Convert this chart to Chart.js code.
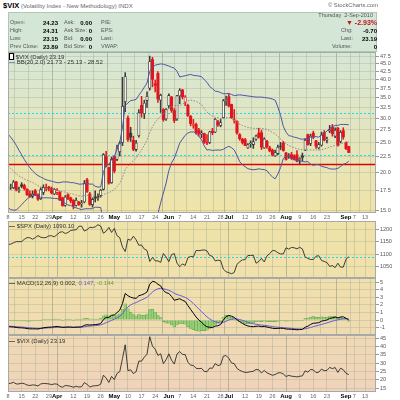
<!DOCTYPE html>
<html>
<head>
<meta charset="utf-8">
<title>$VIX</title>
<script src="https://cdn.jsdelivr.net/npm/chart.js@4.4.0/dist/chart.umd.min.js"></script>
<style>
  html, body { margin: 0; padding: 0; }
  body { width: 400px; height: 400px; position: relative; overflow: hidden; background: #fff;
         font-family: "Liberation Sans", Arial, sans-serif; color: #333; }
  canvas { position: absolute; left: 0; }
  .t { position: absolute; white-space: nowrap; line-height: 1; z-index: 5; }
  .l { font-size: 5.5px; color: #555; }
  .v { font-size: 6px; font-weight: bold; color: #000; text-align: right; }
  #info { position: absolute; left: 8px; top: 12px; width: 369px; height: 40px; background: #d4e7d7;
          border: 1px solid #b2c6b4; box-sizing: border-box; }
  .leg { font-size: 6px; color: #333; }
</style>
</head>
<body>
<div class="t" style="left:3px;top:2px;font-size:6px;color:#666"><b style="font-size:7.5px;color:#000">$VIX</b> (Volatility Index - New Methodology) INDX</div>
<div class="t" style="right:22px;top:3px;font-size:5.8px;color:#666">&copy; StockCharts.com</div>
<div id="info"></div>
<div class="t l" style="right:27px;top:12.5px">Thursday&nbsp; 2-Sep-2010</div>

<div class="t l" style="left:10px;top:20px">Open:</div>
<div class="t v" style="right:342px;top:19.5px">24.23</div>
<div class="t l" style="left:64px;top:20px">Ask:</div>
<div class="t v" style="right:308px;top:19.5px">0.00</div>
<div class="t l" style="left:101px;top:20px">P/E:</div>
<div class="t" style="right:23px;top:18.5px;font-size:7px;font-weight:bold;color:#c0141c"><span style="font-size:7px">&#9660;</span> -2.93%</div>

<div class="t l" style="left:10px;top:28px">High:</div>
<div class="t v" style="right:342px;top:27.5px">24.31</div>
<div class="t l" style="left:64px;top:28px">Ask Size:</div>
<div class="t v" style="right:308px;top:27.5px">0</div>
<div class="t l" style="left:101px;top:28px">EPS:</div>
<div class="t l" style="left:341px;top:28px">Chg:</div>
<div class="t v" style="right:23px;top:27.5px">-0.70</div>

<div class="t l" style="left:10px;top:36px">Low:</div>
<div class="t v" style="right:342px;top:35.5px">23.15</div>
<div class="t l" style="left:64px;top:36px">Bid:</div>
<div class="t v" style="right:308px;top:35.5px">0.00</div>
<div class="t l" style="left:101px;top:36px">Last:</div>
<div class="t l" style="left:341px;top:36px">Last:</div>
<div class="t v" style="right:23px;top:35.5px">23.19</div>

<div class="t l" style="left:10px;top:44px">Prev Close:</div>
<div class="t v" style="right:342px;top:43.5px">23.89</div>
<div class="t l" style="left:64px;top:44px">Bid Size:</div>
<div class="t v" style="right:308px;top:43.5px">0</div>
<div class="t l" style="left:101px;top:44px">VWAP:</div>
<div class="t l" style="left:332px;top:44px">Volume:</div>
<div class="t v" style="right:23px;top:43.5px">0</div>

<canvas id="cMain" width="400" height="169" style="top:52px"></canvas>
<canvas id="cSpx" width="400" height="57" style="top:221px"></canvas>
<canvas id="cMacd" width="400" height="57" style="top:278px"></canvas>
<canvas id="cVix" width="400" height="65" style="top:335px"></canvas>

<div class="t leg" style="left:9px;top:52.5px"><span style="display:inline-block;width:3px;height:5px;border:0.7px solid #000;background:#fff;vertical-align:-1px"></span> $VIX (Daily) 23.19</div>
<div class="t leg" style="left:9px;top:58.5px"><span style="color:#3d4aa0;font-weight:bold">&#8212;</span> BB(20,2.0) 21.73 - 25.13 - 28.52</div>
<div class="t leg" style="left:9px;top:223px"><span style="color:#000;font-weight:bold">&#8212;</span> $SPX (Daily) 1090.10</div>
<div class="t leg" style="left:9px;top:280px"><span style="color:#000;font-weight:bold">&#8212;</span> MACD(12,26,9) 0.002, <span style="color:#6a5ad0">0.147</span>, <span style="color:#5aa83c">-0.144</span></div>
<div class="t leg" style="left:9px;top:337.5px"><span style="color:#000;font-weight:bold">&#8212;</span> $VIX (Daily) 23.19</div>

<script>
// trading days shown on the date axis (Mar 8 - Sep 17, 2010)
const months = ["Mar", "Apr", "May", "Jun", "Jul", "Aug", "Sep"];
const monthDays = [
  [8, 9, 10, 11, 12, 15, 16, 17, 18, 19, 22, 23, 24, 25, 26, 29, 30, 31],
  [1, 5, 6, 7, 8, 9, 12, 13, 14, 15, 16, 19, 20, 21, 22, 23, 26, 27, 28, 29, 30],
  [3, 4, 5, 6, 7, 10, 11, 12, 13, 14, 17, 18, 19, 20, 21, 24, 25, 26, 27, 28],
  [1, 2, 3, 4, 7, 8, 9, 10, 11, 14, 15, 16, 17, 18, 21, 22, 23, 24, 25, 28, 29, 30],
  [1, 2, 6, 7, 8, 9, 12, 13, 14, 15, 16, 19, 20, 21, 22, 23, 26, 27, 28, 29, 30],
  [2, 3, 4, 5, 6, 9, 10, 11, 12, 13, 16, 17, 18, 19, 20, 23, 24, 25, 26, 27, 30, 31],
  [1, 2, 3, 7, 8, 9, 10, 13, 14, 15, 16, 17]
];
const days = months.flatMap((m, i) => monthDays[i].map(d => m + " " + d));

// week ticks on the date axis
const tickDays = ["Mar 8", "Mar 15", "Mar 22", "Mar 29", "Apr 1", "Apr 12", "Apr 19", "Apr 26",
  "May 3", "May 10", "May 17", "May 24", "Jun 1", "Jun 7", "Jun 14", "Jun 21", "Jun 28",
  "Jul 1", "Jul 12", "Jul 19", "Jul 26", "Aug 2", "Aug 9", "Aug 16", "Aug 23",
  "Sep 1", "Sep 7", "Sep 13"];
const tickText = ["8", "15", "22", "29", "Apr", "12", "19", "26",
  "May", "10", "17", "24", "Jun", "7", "14", "21", "28",
  "Jul", "12", "19", "26", "Aug", "9", "16", "23",
  "Sep", "7", "13"];

// $VIX daily candles
const closeBefore = 17.42;
const open = [
  17.6, 17.9, 17.8, 18.6, 17.4, 18.2, 18.1, 17.6, 17.0, 16.7,
  17.4, 16.9, 16.4, 17.2, 17.8, 17.9, 17.7, 17.0, 17.2, 17.2,
  16.5, 15.6, 16.9, 16.5, 16.2, 15.6, 16.0, 15.8, 16.0, 18.9,
  17.0, 15.7, 16.6, 16.7, 16.8, 17.6, 22.5, 20.7, 18.5, 22.5,
  22.0, 23.3, 25.0, 33.9, 30.0, 26.8, 25.4, 23.7, 26.3, 33.0,
  31.0, 34.2, 37.5, 46.5, 38.8, 41.9, 34.3, 32.0, 29.8, 32.9,
  35.1, 31.7, 29.8, 35.4, 37.0, 33.8, 33.0, 30.4, 28.4, 28.6,
  27.4, 26.6, 26.7, 25.0, 25.0, 27.2, 27.0, 29.2, 28.4, 30.1,
  34.1, 35.2, 33.2, 29.4, 29.3, 26.5, 25.6, 25.5, 24.0, 24.7,
  24.6, 25.6, 26.8, 26.9, 24.0, 25.2, 24.0, 23.6, 22.6, 23.0,
  24.3, 24.9, 23.1, 22.5, 22.8, 22.6, 22.8, 22.0, 22.6, 23.6,
  26.5, 24.8, 26.8, 25.3, 24.0, 24.5, 26.9, 25.4, 27.2, 28.0,
  26.2, 27.8, 25.2, 27.3, 25.0, 24.23
];
const high = [
  18.2, 18.3, 18.8, 18.7, 17.9, 18.5, 18.3, 17.7, 17.4, 17.4,
  17.6, 17.0, 17.8, 18.2, 18.3, 18.0, 17.9, 17.7, 17.7, 17.3,
  16.6, 16.8, 17.0, 16.6, 16.3, 16.5, 16.1, 16.2, 18.8, 19.1,
  17.2, 16.5, 17.4, 17.0, 17.6, 23.0, 23.4, 20.8, 22.4, 22.6,
  24.5, 25.2, 40.7, 42.2, 30.5, 28.0, 26.2, 25.4, 32.0, 35.3,
  34.3, 36.5, 47.7, 47.3, 39.9, 42.5, 35.9, 32.2, 32.2, 36.0,
  35.3, 32.2, 35.6, 37.4, 37.2, 35.5, 33.3, 30.6, 29.7, 28.9,
  27.8, 27.3, 26.8, 26.5, 27.2, 27.8, 29.9, 29.5, 29.7, 34.5,
  35.4, 36.0, 33.3, 32.0, 29.4, 26.7, 25.8, 25.8, 24.8, 25.3,
  25.9, 26.4, 27.8, 27.4, 25.9, 25.4, 24.3, 23.8, 23.6, 24.5,
  25.0, 25.2, 23.2, 23.0, 23.2, 22.8, 23.5, 22.3, 23.1, 25.7,
  26.6, 26.6, 27.2, 25.4, 25.0, 27.0, 27.3, 26.0, 28.4, 28.6,
  27.9, 28.0, 27.3, 27.9, 25.1, 24.31
];
const low = [
  17.3, 17.6, 17.7, 17.4, 17.2, 17.8, 17.5, 16.8, 16.6, 16.5,
  16.8, 16.2, 16.3, 16.9, 17.4, 17.4, 17.0, 16.9, 16.9, 16.2,
  15.5, 15.5, 16.3, 15.9, 15.2, 15.5, 15.6, 15.4, 15.9, 17.2,
  15.6, 15.4, 16.0, 16.2, 16.6, 17.5, 20.8, 18.3, 18.4, 19.9,
  21.8, 22.6, 24.4, 31.5, 25.2, 25.2, 23.5, 23.4, 26.0, 30.2,
  29.9, 32.5, 37.0, 37.9, 36.5, 33.7, 31.3, 29.3, 29.5, 32.3,
  31.3, 29.0, 29.5, 33.4, 34.6, 32.9, 30.4, 28.3, 27.8, 26.6,
  26.2, 25.9, 24.8, 24.6, 24.8, 26.5, 26.9, 28.2, 28.1, 30.0,
  33.0, 32.6, 29.9, 28.9, 26.6, 25.4, 24.7, 24.4, 23.9, 24.1,
  23.9, 25.4, 25.8, 23.7, 23.9, 23.9, 23.3, 22.6, 22.5, 22.8,
  23.7, 23.4, 21.9, 22.2, 22.0, 21.9, 21.6, 21.3, 21.8, 23.5,
  24.5, 24.4, 25.7, 23.9, 23.8, 24.3, 25.3, 24.9, 26.9, 26.2,
  25.9, 24.3, 24.9, 25.6, 23.7, 23.15
];
const close = [
  17.79, 17.92, 18.57, 17.58, 17.58, 18.00, 17.69, 16.91, 16.62, 16.97,
  16.87, 16.35, 17.55, 17.85, 17.77, 17.59, 17.13, 17.59, 17.47, 16.23,
  15.58, 16.62, 16.46, 16.14, 15.58, 16.20, 15.72, 15.89, 18.36, 17.34,
  15.73, 16.32, 16.47, 16.62, 17.47, 22.81, 21.08, 18.44, 22.05, 20.19,
  23.84, 24.91, 32.80, 40.95, 25.52, 26.00, 23.73, 24.91, 31.24, 31.19,
  33.55, 35.32, 45.79, 40.10, 38.32, 34.61, 35.59, 29.68, 32.07, 35.54,
  31.77, 29.46, 35.48, 36.93, 35.21, 35.11, 30.57, 28.79, 28.58, 26.91,
  26.68, 26.88, 25.05, 24.88, 27.05, 26.91, 29.74, 28.53, 29.00, 34.13,
  34.54, 32.86, 30.12, 29.65, 26.84, 25.71, 24.98, 24.43, 24.56, 24.89,
  25.14, 26.25, 25.97, 24.13, 25.64, 24.21, 23.47, 22.73, 23.19, 24.13,
  24.25, 23.50, 22.01, 22.66, 22.21, 22.01, 21.74, 22.14, 22.37, 25.39,
  24.59, 26.24, 25.99, 24.33, 24.59, 26.44, 25.49, 25.66, 27.46, 26.70,
  27.37, 24.45, 26.96, 26.05, 23.89, 23.19
];

// Bollinger Bands (20, 2.0)
const bbUpper = [
  26.6, 26.0, 25.3, 24.5, 23.6, 22.8, 22.0, 21.3, 20.7, 20.2,
  19.8, 19.5, 19.3, 19.1, 18.9, 18.8, 18.7, 18.6, 18.5, 18.5,
  18.6, 18.6, 18.6, 18.5, 18.5, 18.4, 18.3, 18.3, 18.4, 18.4,
  18.3, 18.3, 18.0, 17.9, 17.9, 20.0, 21.1, 21.2, 22.0, 22.5,
  23.8, 25.0, 28.0, 33.0, 33.6, 34.2, 34.3, 34.5, 35.6, 36.6,
  37.8, 39.0, 42.6, 43.8, 44.6, 44.8, 45.0, 44.9, 44.6, 44.3,
  43.9, 43.6, 42.6, 40.8, 41.0, 41.2, 41.4, 41.6, 41.3, 41.2,
  41.1, 40.9, 40.0, 39.2, 38.0, 37.4, 36.7, 36.6, 36.3, 36.0,
  36.0, 36.1, 35.8, 35.5, 35.6, 35.7, 35.6, 35.5, 35.4, 35.3,
  35.2, 35.1, 35.1, 35.1, 35.0, 34.9, 34.8, 34.6, 34.3, 32.6,
  30.6, 28.2, 27.0, 26.3, 26.2, 26.0, 25.9, 25.7, 25.6, 25.7,
  25.6, 26.0, 26.2, 26.1, 26.0, 26.5, 26.8, 27.2, 27.8, 28.1,
  28.4, 28.4, 28.6, 28.6, 28.6, 28.52
];
const bbMid = [
  20.99, 20.56, 20.18, 19.79, 19.47, 19.24, 19.02, 18.83, 18.67, 18.52,
  18.33, 18.08, 17.94, 17.80, 17.71, 17.65, 17.59, 17.52, 17.46, 17.40,
  17.29, 17.23, 17.12, 17.05, 16.95, 16.86, 16.76, 16.71, 16.80, 16.81,
  16.76, 16.76, 16.70, 16.64, 16.63, 16.89, 17.08, 17.13, 17.36, 17.55,
  17.97, 18.38, 19.20, 20.44, 20.94, 21.43, 21.83, 22.28, 22.92, 23.61,
  24.50, 25.45, 26.92, 28.09, 29.14, 29.73, 30.45, 31.01, 31.52, 32.28,
  32.68, 32.91, 33.04, 32.84, 33.32, 33.78, 34.12, 34.32, 34.18, 33.97,
  33.63, 33.20, 32.17, 31.41, 30.84, 30.46, 30.16, 30.11, 29.95, 29.88,
  30.02, 30.19, 29.92, 29.56, 29.14, 28.67, 28.39, 28.17, 27.97, 27.87,
  27.79, 27.76, 27.81, 27.77, 27.70, 27.57, 27.25, 26.96, 26.67, 26.17,
  25.66, 25.19, 24.78, 24.43, 24.20, 24.02, 23.86, 23.74, 23.63, 23.66,
  23.63, 23.63, 23.63, 23.64, 23.59, 23.70, 23.80, 23.95, 24.16, 24.29,
  24.44, 24.49, 24.74, 24.91, 24.99, 25.13
];
const bbLower = [
  15.38, 15.12, 15.06, 15.08, 15.34, 15.68, 16.04, 16.36, 16.64, 16.84,
  16.86, 16.66, 16.58, 16.50, 16.52, 16.50, 16.48, 16.44, 16.42, 16.30,
  15.98, 15.86, 15.64, 15.60, 15.40, 15.32, 15.22, 15.12, 15.20, 15.22,
  15.22, 15.22, 15.40, 15.38, 15.36, 13.78, 13.06, 13.06, 12.72, 12.60,
  12.14, 11.76, 10.40, 7.88, 8.28, 8.66, 9.36, 10.06, 10.24, 10.62,
  11.20, 11.90, 11.24, 12.38, 13.68, 14.66, 15.90, 17.12, 18.44, 20.26,
  21.46, 22.22, 23.48, 24.88, 25.64, 26.36, 26.84, 27.04, 27.06, 26.74,
  26.16, 25.50, 24.34, 23.62, 23.68, 23.52, 23.62, 23.62, 23.60, 23.76,
  24.04, 24.28, 24.04, 23.62, 22.68, 21.64, 21.18, 20.84, 20.54, 20.44,
  20.38, 20.42, 20.52, 20.44, 20.40, 20.24, 19.70, 19.32, 19.04, 19.74,
  20.72, 22.18, 22.56, 22.56, 22.20, 22.04, 21.82, 21.78, 21.66, 21.62,
  21.66, 21.26, 21.06, 21.18, 21.18, 20.90, 20.80, 20.70, 20.52, 20.48,
  20.48, 20.58, 20.88, 21.22, 21.38, 21.73
];

// $SPX daily close
const spx = [
  1138.5, 1140.4, 1145.6, 1150.2, 1150.0, 1150.5, 1159.5, 1166.2, 1165.8, 1159.9,
  1165.8, 1174.2, 1167.7, 1165.7, 1166.6, 1173.2, 1173.3, 1169.4, 1178.1, 1187.4,
  1189.4, 1182.4, 1186.4, 1194.4, 1196.5, 1197.3, 1210.7, 1211.7, 1192.1, 1197.5,
  1207.2, 1205.9, 1208.7, 1217.3, 1212.1, 1183.7, 1191.4, 1206.8, 1186.7, 1202.3,
  1173.6, 1165.9, 1128.2, 1110.9, 1159.7, 1155.8, 1171.7, 1157.4, 1135.7, 1136.9,
  1120.8, 1115.1, 1071.6, 1087.7, 1073.7, 1074.0, 1067.9, 1103.1, 1089.4, 1070.7,
  1098.4, 1102.8, 1064.9, 1050.5, 1062.0, 1055.7, 1086.8, 1091.6, 1089.6, 1115.2,
  1114.6, 1116.0, 1117.5, 1113.2, 1095.3, 1092.0, 1073.7, 1076.8, 1074.6, 1041.2,
  1030.7, 1027.4, 1022.6, 1028.1, 1060.3, 1070.3, 1078.0, 1078.8, 1095.3, 1095.2,
  1096.5, 1064.9, 1071.3, 1083.5, 1069.6, 1093.7, 1102.7, 1115.0, 1113.8, 1106.1,
  1101.5, 1101.6, 1125.9, 1120.5, 1127.2, 1125.8, 1121.6, 1127.8, 1121.1, 1089.5,
  1083.6, 1079.3, 1079.4, 1092.5, 1094.2, 1075.6, 1071.7, 1067.4, 1051.9, 1055.3,
  1047.2, 1064.6, 1048.9, 1049.3, 1080.3, 1090.1
];

// MACD(12,26,9)
const macd = [
  -0.85, -0.90, -0.92, -0.98, -1.02, -1.03, -1.06, -1.12, -1.16, -1.16,
  -1.16, -1.18, -1.10, -1.02, -0.97, -0.94, -0.93, -0.88, -0.85, -0.90,
  -0.97, -0.94, -0.92, -0.93, -0.97, -0.93, -0.93, -0.90, -0.70, -0.62,
  -0.66, -0.63, -0.60, -0.56, -0.46, 0.05, 0.34, 0.35, 0.62, 0.68,
  0.98, 1.30, 2.18, 3.50, 3.20, 3.00, 2.90, 2.85, 3.20, 3.30,
  3.45, 3.70, 4.70, 5.10, 5.00, 4.70, 4.50, 3.90, 3.60, 3.50,
  3.10, 2.60, 2.70, 2.80, 2.60, 2.45, 1.90, 1.40, 0.90, 0.40,
  0.00, -0.30, -0.65, -0.90, -0.95, -1.00, -0.80, -0.75, -0.60, 0.00,
  0.45, 0.60, 0.50, 0.35, 0.05, -0.20, -0.45, -0.65, -0.78, -0.85,
  -0.88, -0.82, -0.80, -0.88, -0.85, -0.92, -1.00, -1.08, -1.12, -1.10,
  -1.08, -1.10, -1.18, -1.20, -1.22, -1.25, -1.28, -1.26, -1.22, -0.95,
  -0.82, -0.58, -0.42, -0.40, -0.35, -0.15, -0.08, 0.00, 0.20, 0.28,
  0.40, 0.28, 0.40, 0.42, 0.24, 0.002
];
const signal = [
  -0.80, -0.82, -0.84, -0.87, -0.90, -0.92, -0.95, -0.99, -1.02, -1.05,
  -1.07, -1.09, -1.09, -1.08, -1.06, -1.03, -1.01, -0.99, -0.96, -0.95,
  -0.95, -0.95, -0.94, -0.94, -0.95, -0.94, -0.94, -0.93, -0.89, -0.83,
  -0.80, -0.76, -0.73, -0.70, -0.65, -0.51, -0.34, -0.20, -0.04, 0.11,
  0.28, 0.49, 0.82, 1.36, 1.73, 1.98, 2.17, 2.30, 2.48, 2.65,
  2.81, 2.99, 3.33, 3.68, 3.95, 4.10, 4.18, 4.12, 4.02, 3.91,
  3.75, 3.52, 3.36, 3.25, 3.12, 2.98, 2.77, 2.49, 2.18, 1.82,
  1.46, 1.11, 0.75, 0.42, 0.15, -0.08, -0.23, -0.33, -0.39, -0.31,
  -0.16, 0.00, 0.10, 0.15, 0.13, 0.06, -0.04, -0.16, -0.29, -0.40,
  -0.50, -0.56, -0.61, -0.66, -0.70, -0.74, -0.80, -0.85, -0.91, -0.95,
  -0.97, -1.00, -1.03, -1.07, -1.10, -1.13, -1.16, -1.18, -1.19, -1.14,
  -1.08, -0.98, -0.87, -0.77, -0.69, -0.58, -0.48, -0.38, -0.27, -0.16,
  -0.05, 0.02, 0.10, 0.16, 0.18, 0.147
];
const histogram = [
  -0.05, -0.08, -0.08, -0.11, -0.12, -0.11, -0.11, -0.14, -0.14, -0.11,
  -0.09, -0.09, -0.01, 0.06, 0.09, 0.09, 0.08, 0.11, 0.11, 0.05,
  -0.02, 0.01, 0.02, 0.01, -0.02, 0.01, 0.01, 0.03, 0.19, 0.21,
  0.14, 0.13, 0.13, 0.14, 0.19, 0.56, 0.68, 0.55, 0.66, 0.57,
  0.70, 0.82, 1.36, 2.14, 1.47, 1.02, 0.73, 0.55, 0.72, 0.65,
  0.64, 0.71, 1.37, 1.42, 1.05, 0.60, 0.32, -0.22, -0.42, -0.41,
  -0.65, -0.92, -0.66, -0.45, -0.52, -0.53, -0.87, -1.09, -1.28, -1.42,
  -1.46, -1.41, -1.40, -1.32, -1.10, -0.92, -0.57, -0.42, -0.22, 0.31,
  0.61, 0.61, 0.40, 0.20, -0.08, -0.26, -0.41, -0.49, -0.49, -0.45,
  -0.39, -0.26, -0.19, -0.22, -0.15, -0.18, -0.21, -0.23, -0.21, -0.16,
  -0.11, -0.10, -0.15, -0.13, -0.12, -0.12, -0.12, -0.08, -0.03, 0.19,
  0.26, 0.40, 0.45, 0.37, 0.34, 0.43, 0.40, 0.38, 0.47, 0.44,
  0.45, 0.26, 0.31, 0.26, 0.06, -0.144
];

// axis ticks and marked levels
const vixTicks = [15, 17.5, 20, 22.5, 25, 27.5, 30, 32.5, 35, 37.5, 40, 42.5, 45, 47.5];
const spxTicks = [1050, 1100, 1150, 1200];
const macdTicks = [-1, 0, 1, 2, 3, 4, 5];
const vixLineTicks = [15, 20, 25, 30, 35, 40, 45];
const vixRedLevel = 21.3;
const vixCyanLevels = [31.1, 22.7];
const spxCyanLevel = 1090.10;

const FONT = "Liberation Sans";
Chart.defaults.font.family = FONT;
Chart.defaults.animation = false;

// panel background, level lines and frame
const panelPlugin = {
  id: "panel",
  beforeDraw(chart, args, opts) {
    const { ctx, chartArea: a } = chart;
    const g = ctx.createLinearGradient(0, a.top, 0, a.bottom);
    g.addColorStop(0, opts.top);
    g.addColorStop(1, opts.bottom);
    ctx.save();
    ctx.fillStyle = g;
    ctx.fillRect(a.left, a.top, a.right - a.left, a.bottom - a.top);
    ctx.restore();
  },
  beforeDatasetsDraw(chart, args, opts) {
    const { ctx, chartArea: a } = chart;
    const y = chart.scales.y;
    (opts.lines || []).forEach(l => {
      const py = Math.round(y.getPixelForValue(l.value)) + 0.5;
      ctx.save();
      ctx.strokeStyle = l.color;
      ctx.lineWidth = l.width || 1;
      ctx.setLineDash(l.dash || []);
      ctx.beginPath();
      ctx.moveTo(a.left, py);
      ctx.lineTo(a.right, py);
      ctx.stroke();
      ctx.restore();
    });
  },
  afterDraw(chart) {
    const { ctx, chartArea: a } = chart;
    ctx.save();
    ctx.strokeStyle = "#a8a8a8";
    ctx.lineWidth = 1;
    ctx.strokeRect(a.left + 0.5, a.top + 0.5, a.right - a.left - 1, a.bottom - a.top - 1);
    ctx.restore();
  }
};

const isMonth = c => c.tick && months.includes(c.tick.label);

function dateAxis(showLabels) {
  return {
    type: "category",
    offset: false,
    afterBuildTicks: s => { s.ticks = tickDays.map(d => ({ value: days.indexOf(d) })); },
    grid: {
      drawTicks: false,
      color: c => isMonth(c) ? "rgba(140,150,130,0.55)" : "rgba(160,170,150,0.4)"
    },
    border: { display: false },
    ticks: {
      display: showLabels,
      autoSkip: false,
      maxRotation: 0,
      padding: 1,
      callback: v => tickText[tickDays.indexOf(days[v])],
      font: c => isMonth(c) ? { family: FONT, size: 6, weight: "bold" } : { family: FONT, size: 5.5 },
      color: c => isMonth(c) ? "#000" : "#666"
    },
    afterFit: s => { s.height = showLabels ? 8 : 0; }
  };
}

function valueAxis(type, min, max, tickList, fmt) {
  return {
    type: type,
    position: "right",
    min: min,
    max: max,
    afterBuildTicks: s => { s.ticks = tickList.map(v => ({ value: v })); },
    grid: { color: "rgba(160,170,150,0.35)", tickColor: "#999", tickLength: 3 },
    border: { display: false },
    ticks: {
      autoSkip: false,
      padding: 1,
      color: "#555",
      font: { family: FONT, size: 5.5 },
      callback: fmt
    },
    afterFit: s => { s.width = 24; s.paddingTop = 0; s.paddingBottom = 0; }
  };
}

const baseOptions = (scales, panel) => ({
  responsive: false,
  animation: false,
  layout: { padding: { left: 8, right: 0, top: 0, bottom: 0 } },
  plugins: { legend: { display: false }, tooltip: { enabled: false }, panel: panel },
  scales: scales
});

// candle colours: red when the close is below the previous close, hollow when close > open
const prevClose = [closeBefore].concat(close.slice(0, -1));
const candleColor = close.map((c, i) => c < prevClose[i] ? "#e3141c" : "#3a3a3a");
const hollow = close.map((c, i) => c > open[i]);
const bodyFill = close.map((c, i) => hollow[i] ? "#fbfbf4" : candleColor[i]);

new Chart(document.getElementById("cMain"), {
  type: "bar",
  data: {
    labels: days,
    datasets: [
      {
        type: "line", data: bbUpper, borderColor: "#4a56a6", borderWidth: 1,
        pointRadius: 0, order: 0
      },
      {
        type: "line", data: bbLower, borderColor: "#4a56a6", borderWidth: 1,
        pointRadius: 0, order: 0
      },
      {
        type: "line", data: bbMid, borderColor: "#8a8a8a", borderWidth: 1,
        borderDash: [1.5, 1.5], pointRadius: 0, order: 0
      },
      {
        data: open.map((o, i) => [o, close[i]]),
        backgroundColor: bodyFill,
        borderColor: candleColor,
        borderWidth: hollow.map(h => h ? 0.8 : 0),
        borderSkipped: false,
        barThickness: 2.4,
        grouped: false,
        order: 1
      },
      {
        data: low.map((l, i) => [l, high[i]]),
        backgroundColor: candleColor,
        barThickness: 0.9,
        grouped: false,
        order: 2
      }
    ]
  },
  options: baseOptions({
    x: dateAxis(true),
    y: valueAxis("logarithmic", 14.74, 49.2, vixTicks, v => v.toFixed(1))
  }, {
    top: "#d6e7d6", bottom: "#f0e4a8",
    lines: [
      { value: vixRedLevel, color: "#e00000", width: 1.3 },
      { value: vixCyanLevels[0], color: "#22d8e8", width: 1, dash: [2, 2] },
      { value: vixCyanLevels[1], color: "#22d8e8", width: 1, dash: [2, 2] }
    ]
  }),
  plugins: [panelPlugin]
});

new Chart(document.getElementById("cSpx"), {
  type: "line",
  data: {
    labels: days,
    datasets: [{ data: spx, borderColor: "#2a2a2a", borderWidth: 0.9, pointRadius: 0 }]
  },
  options: baseOptions({
    x: dateAxis(false),
    y: valueAxis("linear", 1006, 1232, spxTicks, v => String(v))
  }, {
    top: "#efe3a9", bottom: "#f0e1aa",
    lines: [{ value: spxCyanLevel, color: "#22d8e8", width: 1, dash: [2, 2] }]
  }),
  plugins: [panelPlugin]
});

new Chart(document.getElementById("cMacd"), {
  type: "bar",
  data: {
    labels: days,
    datasets: [
      { type: "line", data: macd, borderColor: "#000", borderWidth: 1, pointRadius: 0, order: 0 },
      { type: "line", data: signal, borderColor: "#6a5ad8", borderWidth: 1, pointRadius: 0, order: 1 },
      {
        data: histogram, backgroundColor: "#95cf76", borderColor: "#5f9d49", borderWidth: 0.5,
        barPercentage: 1, categoryPercentage: 1, order: 2
      }
    ]
  },
  options: baseOptions({
    x: dateAxis(false),
    y: valueAxis("linear", -1.97, 5.53, macdTicks, v => String(v))
  }, { top: "#f0e0ac", bottom: "#f0dbb1" }),
  plugins: [panelPlugin]
});

new Chart(document.getElementById("cVix"), {
  type: "line",
  data: {
    labels: days,
    datasets: [{ data: close, borderColor: "#2a2a2a", borderWidth: 0.9, pointRadius: 0 }]
  },
  options: baseOptions({
    x: dateAxis(true),
    y: valueAxis("linear", 12.75, 46.8, vixLineTicks, v => String(v))
  }, { top: "#f0d9b4", bottom: "#f0d3ba" }),
  plugins: [panelPlugin]
});
</script>
</body>
</html>
